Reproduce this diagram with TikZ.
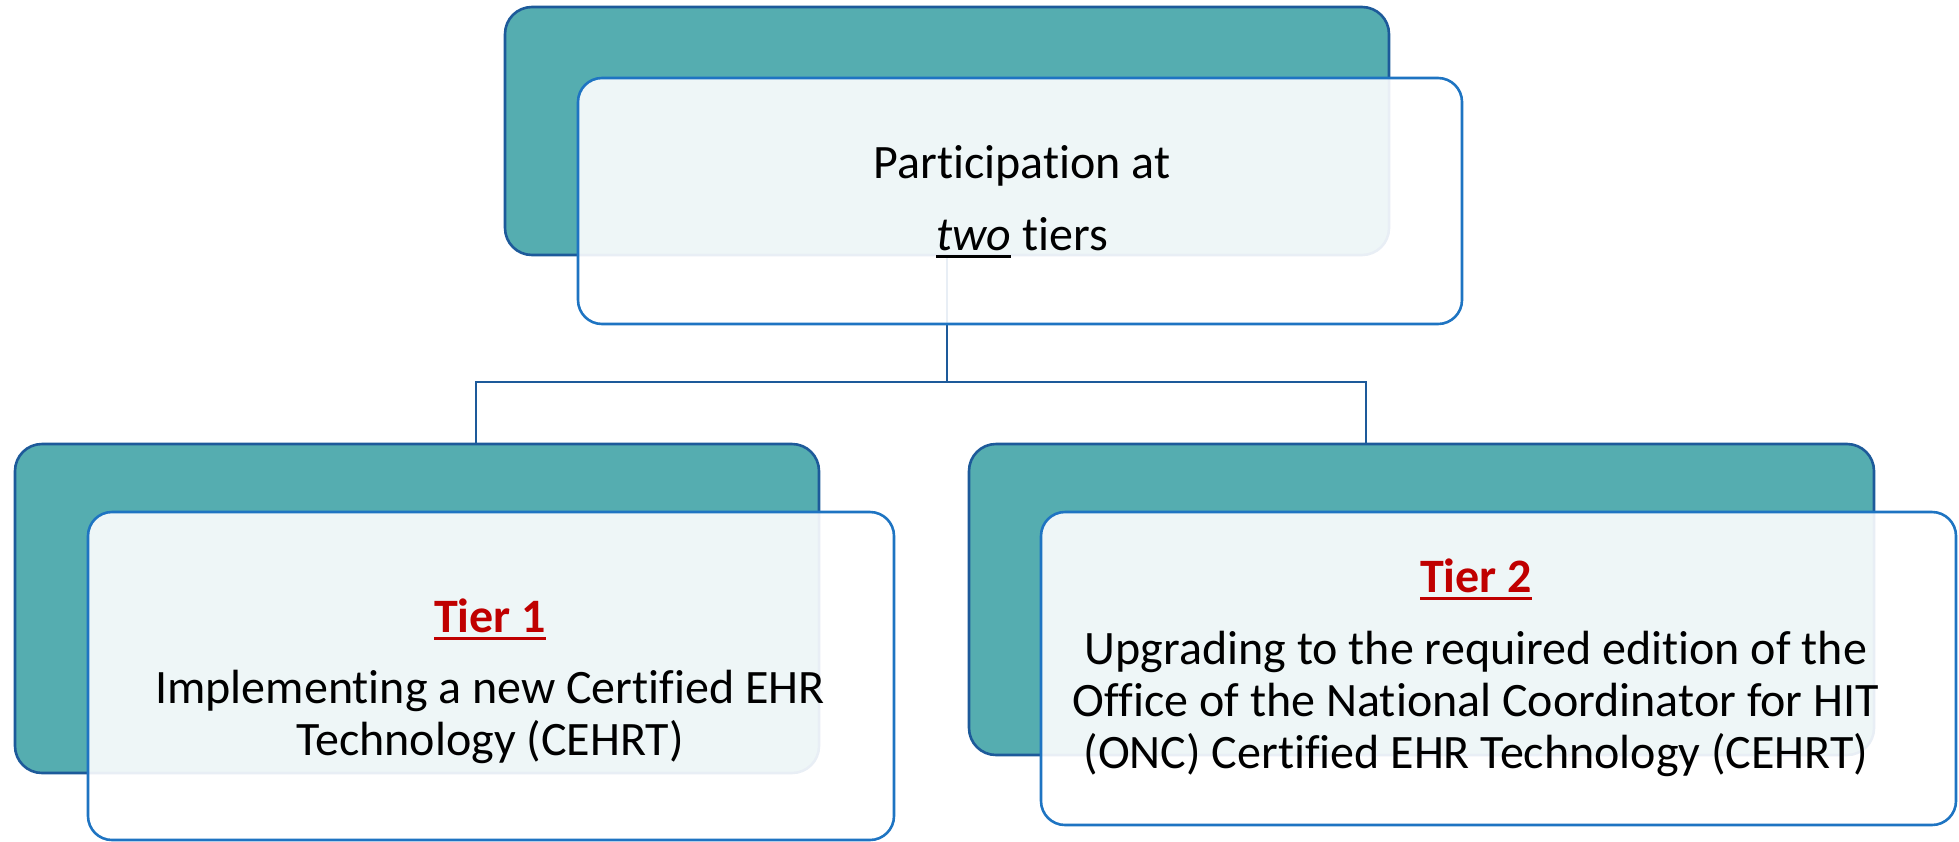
\documentclass[tikz,border=0pt]{standalone}
\usepackage{fontspec}
\setmainfont{Carlito}[Ligatures=NoCommon]
\usepackage{tikz}

\newcommand\thickul[1]{\setbox0\hbox{#1}\rlap{\rule[-8pt]{\wd0}{3.5pt}}\box0\relax}
\definecolor{tealfill}{HTML}{55ADB0}
\definecolor{darkedge}{HTML}{1D5A9A}
\definecolor{lightedge}{HTML}{1E74C2}
\definecolor{tierred}{HTML}{C00000}
\tikzset{
  backbox/.style={draw=darkedge, line width=2.6pt, fill=tealfill, rounded corners=27pt, anchor=north west, inner sep=0pt, outer sep=0pt},
  frontbox/.style={draw=lightedge, line width=2.6pt, fill=white, fill opacity=0.9, rounded corners=24pt, anchor=north west, inner sep=0pt, outer sep=0pt},
  link/.style={draw=darkedge, line width=2.4pt},
  boxtext/.style={align=center, font=\fontsize{48}{52}\selectfont, anchor=base, inner sep=0pt},
}

\begin{document}
\begin{tikzpicture}[x=1pt,y=-1pt]
  \useasboundingbox (0,0) rectangle (1959,841);
  \node[backbox, minimum width=884pt, minimum height=248pt](topback) at (505,7){};
  \coordinate(split) at (947,382);
  \coordinate(lefthook) at (476,444);
  \coordinate(righthook) at (1366,444);
  \draw[link] (topback.south) -- (split) -| (lefthook) (split) -| (righthook);
  \node[frontbox, minimum width=884pt, minimum height=246pt](topfront) at (578,78){};
  \node[backbox, minimum width=804pt, minimum height=329pt](leftback) at (15,444){};
  \node[frontbox, minimum width=806pt, minimum height=328pt](leftfront) at (88,512){};
  \node[backbox, minimum width=905pt, minimum height=311pt](rightback) at (969,444){};
  \node[frontbox, minimum width=915pt, minimum height=313pt](rightfront) at (1041,512){};
  % the base anchor sits on the last line
  \node[boxtext, font=\fontsize{48}{72}\selectfont](toptext) at (1022,250){Participation at\\\thickul{\textit{two}} tiers};
  \node[boxtext](tier1text) at (490,755){\textcolor{tierred}{\textbf{\thickul{Tier 1}}}\\[19pt]Implementing a new Certified EHR\\Technology (CEHRT)};
  \node[boxtext](tier2text) at (1476,768){\textcolor{tierred}{\textbf{\thickul{Tier 2}}}\\[20pt]Upgrading to the required edition of the\\Office of the National Coordinator for HIT\\(ONC) Certified EHR Technology (CEHRT)};
\end{tikzpicture}
\end{document}
